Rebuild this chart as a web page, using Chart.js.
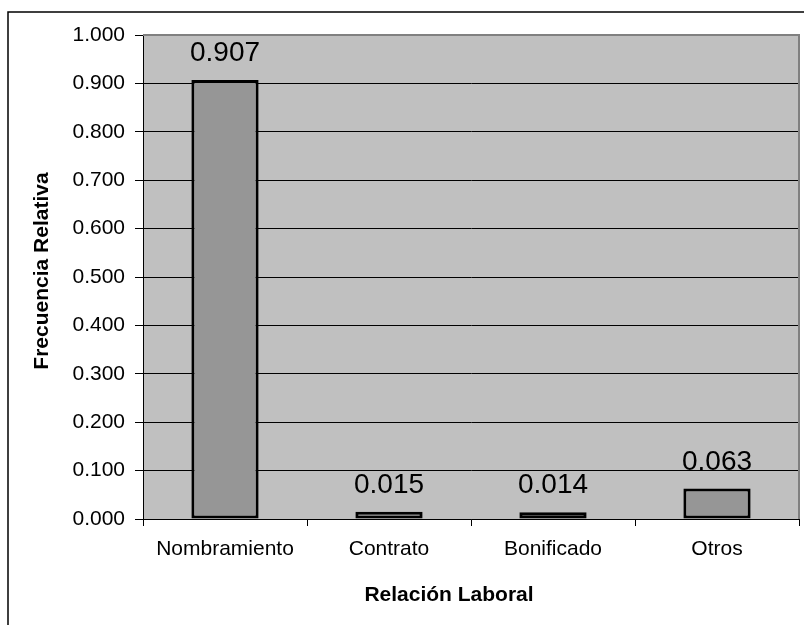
<!DOCTYPE html>
<html>
<head>
<meta charset="utf-8">
<script src="https://cdn.jsdelivr.net/npm/chart.js@4/dist/chart.umd.min.js"></script>
<style>
  html, body { margin: 0; padding: 0; background: #fff; }
  #wrap { width: 804px; height: 625px; position: relative; }
</style>
</head>
<body>
<div id="wrap"><canvas id="barChart"></canvas></div>
<script>
const categories = ['Nombramiento', 'Contrato', 'Bonificado', 'Otros'];
const frecuencia = [0.907, 0.015, 0.014, 0.063];
const yTitle = 'Frecuencia Relativa';
const xTitle = 'Relación Laboral';

const FONT = 'Arial, "Liberation Sans", sans-serif';

// marco exterior, fondo gris del área de trazado, títulos y etiquetas
const decor = {
    id: 'decor',
    beforeDraw(chart) {
        const { ctx, chartArea: a } = chart;
        ctx.save();
        ctx.strokeStyle = '#000';
        ctx.lineWidth = 1.5;
        ctx.beginPath();
        ctx.moveTo(8, chart.height);
        ctx.lineTo(8, 12);
        ctx.lineTo(chart.width, 12);
        ctx.stroke();
        ctx.fillStyle = '#c0c0c0';
        ctx.fillRect(a.left, a.top, a.right - a.left, a.bottom - a.top);
        ctx.restore();
    },
    beforeDatasetsDraw(chart) {
        const { ctx, chartArea: a } = chart;
        ctx.save();
        ctx.strokeStyle = '#808080';
        ctx.lineWidth = 2;
        ctx.beginPath();
        ctx.moveTo(a.left, a.top);
        ctx.lineTo(a.right, a.top);
        ctx.lineTo(a.right, a.bottom);
        ctx.stroke();
        ctx.restore();
    },
    afterDatasetsDraw(chart) {
        const { ctx } = chart;
        ctx.save();
        ctx.fillStyle = '#000';
        ctx.textAlign = 'center';
        ctx.textBaseline = 'alphabetic';
        ctx.font = '28px ' + FONT;
        chart.getDatasetMeta(0).data.forEach((bar, i) => {
            ctx.fillText(frecuencia[i].toFixed(3), bar.x, bar.y - 19);
        });
        ctx.font = 'bold 21px ' + FONT;
        ctx.textBaseline = 'middle';
        ctx.fillText(xTitle, 449, 595);
        ctx.translate(42, 271);
        ctx.rotate(-Math.PI / 2);
        ctx.fillText(yTitle, 0, 0);
        ctx.restore();
    }
};

new Chart(document.getElementById('barChart'), {
    type: 'bar',
    data: {
        labels: categories,
        datasets: [{
            label: yTitle,
            data: frecuencia,
            backgroundColor: '#969696',
            borderColor: '#000',
            borderWidth: 3,
            borderSkipped: false,
            barPercentage: 0.41,
            categoryPercentage: 1.0
        }]
    },
    options: {
        responsive: true,
        maintainAspectRatio: false,
        animation: false,
        layout: { padding: { top: 35, right: 5, left: 0, bottom: 0 } },
        scales: {
            x: {
                afterFit: (s) => { s.height = 106; },
                grid: {
                    offset: true,
                    drawOnChartArea: false,
                    drawTicks: true,
                    tickLength: 7,
                    color: '#000',
                    lineWidth: 1
                },
                border: { color: '#000', width: 1 },
                ticks: { color: '#000', font: { family: FONT, size: 21 }, padding: 11, maxRotation: 0 }
            },
            y: {
                min: 0,
                max: 1,
                afterFit: (s) => { s.width = 143; },
                grid: { color: '#000', lineWidth: 1, tickLength: 8 },
                border: { color: '#000', width: 1 },
                ticks: {
                    stepSize: 0.1,
                    color: '#000',
                    padding: 10,
                    font: { family: FONT, size: 21 },
                    callback: (v) => v.toFixed(3)
                }
            }
        },
        plugins: {
            legend: { display: false },
            tooltip: { enabled: false }
        }
    },
    plugins: [decor]
});
</script>
</body>
</html>
